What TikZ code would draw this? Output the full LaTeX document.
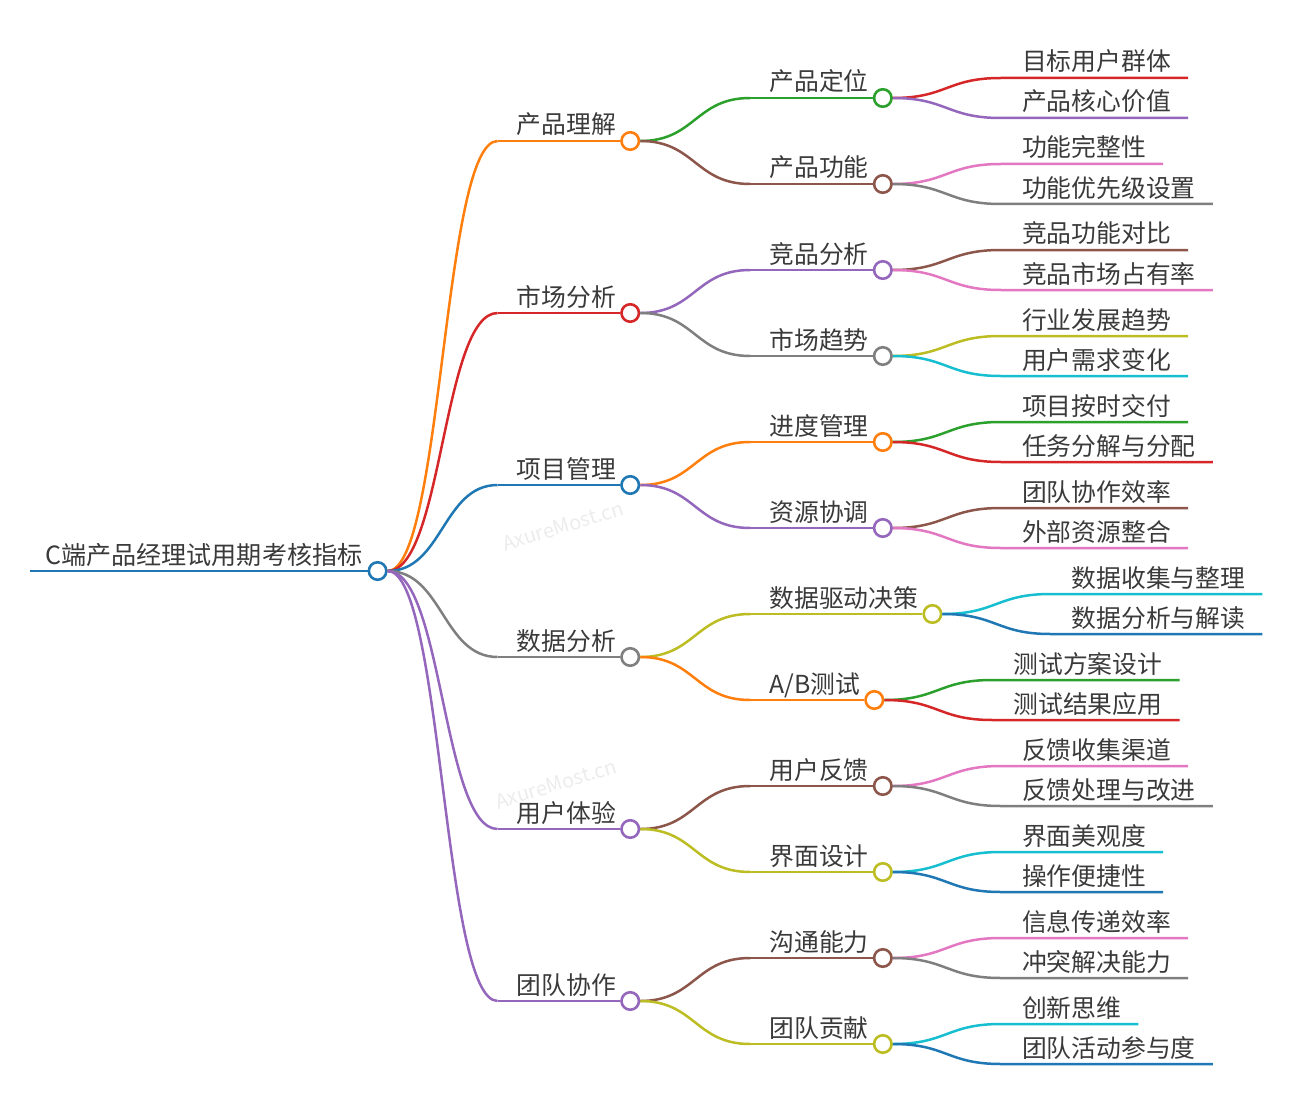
\documentclass[tikz,border=0pt]{standalone}
\usepackage{fontspec}
\newfontfamily\mmcjk{Noto Sans CJK SC}
\usepackage{xcolor}
\definecolor{mmink}{HTML}{3A3A3A}
\definecolor{mmmark}{HTML}{ECECEC}
\definecolor{mmblue}{HTML}{1F77B4}
\definecolor{mmorange}{HTML}{FF7F0E}
\definecolor{mmgreen}{HTML}{2CA02C}
\definecolor{mmred}{HTML}{D62728}
\definecolor{mmpurple}{HTML}{9467BD}
\definecolor{mmbrown}{HTML}{8C564B}
\definecolor{mmpink}{HTML}{E377C2}
\definecolor{mmgray}{HTML}{7F7F7F}
\definecolor{mmolive}{HTML}{BCBD22}
\definecolor{mmcyan}{HTML}{17BECF}
\usetikzlibrary{calc}
\tikzset{
  mmlink/.style ={line width=2.5pt},
  mmdot/.style  ={circle, line width=2.6pt, fill=white, minimum size=17.5pt, inner sep=0pt},
  mmtext/.style ={font=\mmcjk\fontsize{24.8}{28}\selectfont, text=mmink, inner sep=0pt, anchor=base west},
  mmroot/.style ={mmtext, font=\mmcjk\fontsize{25.1}{28}\selectfont},
  mmwater/.style={font=\mmcjk\fontsize{20}{24}\selectfont, text=mmmark, rotate=17},
}
% inner topic: link from parent, underline, label, dot
\newcommand{\mmknot}[5]{%
  \coordinate (#1-s) at ($(#2.center |- 0,#3)+(120,0)$);
  \node[mmtext] (#1-t) at ($(#2.center |- 0,#3)+(139,-7)$) {#5};
  \node[mmdot, draw=#4] (#1) at ($(#1-t.east |- #1-s)+(14,0)$) {};
  \draw[mmlink, draw=#4] let \p1=(#2.east), \p2=(#1-s) in
    (\p1) .. controls ({0.5*\x1+0.5*\x2},\y1) and ({0.5*\x1+0.5*\x2},\y2) .. (\p2);
  \draw[mmlink, draw=#4] (#1-s) -- (#1.west);}
% leaf topic: link from parent, underline, label
\newcommand{\mmleaf}[5]{%
  \coordinate (#1-s) at ($(#2.center |- 0,#3)+(118,0)$);
  \node[mmtext] (#1) at ($(#2.center |- 0,#3)+(139,-7)$) {#5};
  \coordinate (#1-e) at ($(#1.east |- #1-s)+(17,0)$);
  \draw[mmlink, draw=#4] let \p1=(#2.east), \p2=(#1-s) in
    (\p1) .. controls ({0.5*\x1+0.5*\x2},\y1) and ({0.5*\x1+0.5*\x2},\y2) .. (\p2) -- (#1-e);}

\begin{document}
\begin{tikzpicture}[x=1pt, y=-1pt]
  \useasboundingbox (0,0) rectangle (1290,1118);
  \node[mmwater] (wm1) at (563,526) {AxureMost.cn};
  \node[mmwater] (wm2) at (556,784) {AxureMost.cn};
  % root
  \coordinate (root-s) at (30,571);
  \node[mmroot] (root-t) at (45,564) {C端产品经理试用期考核指标};
  \node[mmdot, draw=mmblue] (root) at ($(root-t.east |- root-s)+(15,0)$) {};
  \draw[mmlink, draw=mmblue] (root-s) -- (root.west);
  % 产品理解
  \mmknot{a}{root}{141}{mmorange}{产品理解}
  \mmknot{a1}{a}{98}{mmgreen}{产品定位}
  \mmleaf{a11}{a1}{78}{mmred}{目标用户群体}
  \mmleaf{a12}{a1}{118}{mmpurple}{产品核心价值}
  \mmknot{a2}{a}{184}{mmbrown}{产品功能}
  \mmleaf{a21}{a2}{164}{mmpink}{功能完整性}
  \mmleaf{a22}{a2}{204}{mmgray}{功能优先级设置}
  % 市场分析
  \mmknot{b}{root}{313}{mmred}{市场分析}
  \mmknot{b1}{b}{270}{mmpurple}{竞品分析}
  \mmleaf{b11}{b1}{250}{mmbrown}{竞品功能对比}
  \mmleaf{b12}{b1}{290}{mmpink}{竞品市场占有率}
  \mmknot{b2}{b}{356}{mmgray}{市场趋势}
  \mmleaf{b21}{b2}{336}{mmolive}{行业发展趋势}
  \mmleaf{b22}{b2}{376}{mmcyan}{用户需求变化}
  % 项目管理
  \mmknot{c}{root}{485}{mmblue}{项目管理}
  \mmknot{c1}{c}{442}{mmorange}{进度管理}
  \mmleaf{c11}{c1}{422}{mmgreen}{项目按时交付}
  \mmleaf{c12}{c1}{462}{mmred}{任务分解与分配}
  \mmknot{c2}{c}{528}{mmpurple}{资源协调}
  \mmleaf{c21}{c2}{508}{mmbrown}{团队协作效率}
  \mmleaf{c22}{c2}{548}{mmpink}{外部资源整合}
  % 数据分析
  \mmknot{d}{root}{657}{mmgray}{数据分析}
  \mmknot{d1}{d}{614}{mmolive}{数据驱动决策}
  \mmleaf{d11}{d1}{594}{mmcyan}{数据收集与整理}
  \mmleaf{d12}{d1}{634}{mmblue}{数据分析与解读}
  \mmknot{d2}{d}{700}{mmorange}{A/B测试}
  \mmleaf{d21}{d2}{680}{mmgreen}{测试方案设计}
  \mmleaf{d22}{d2}{720}{mmred}{测试结果应用}
  % 用户体验
  \mmknot{e}{root}{829}{mmpurple}{用户体验}
  \mmknot{e1}{e}{786}{mmbrown}{用户反馈}
  \mmleaf{e11}{e1}{766}{mmpink}{反馈收集渠道}
  \mmleaf{e12}{e1}{806}{mmgray}{反馈处理与改进}
  \mmknot{e2}{e}{872}{mmolive}{界面设计}
  \mmleaf{e21}{e2}{852}{mmcyan}{界面美观度}
  \mmleaf{e22}{e2}{892}{mmblue}{操作便捷性}
  % 团队协作
  \mmknot{f}{root}{1001}{mmpurple}{团队协作}
  \mmknot{f1}{f}{958}{mmbrown}{沟通能力}
  \mmleaf{f11}{f1}{938}{mmpink}{信息传递效率}
  \mmleaf{f12}{f1}{978}{mmgray}{冲突解决能力}
  \mmknot{f2}{f}{1044}{mmolive}{团队贡献}
  \mmleaf{f21}{f2}{1024}{mmcyan}{创新思维}
  \mmleaf{f22}{f2}{1064}{mmblue}{团队活动参与度}
\end{tikzpicture}
\end{document}
